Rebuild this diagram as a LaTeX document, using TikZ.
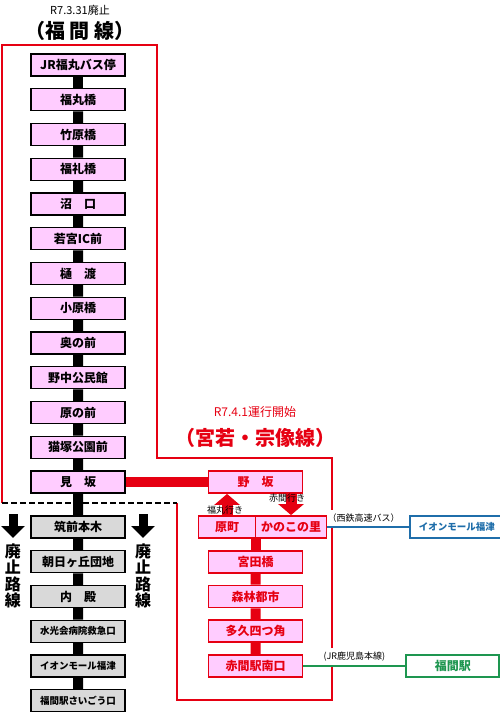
\documentclass[tikz,border=0pt]{standalone}
\usepackage{fontspec}
\setmainfont{Noto Sans CJK JP}
\usetikzlibrary{positioning,arrows.meta}
\definecolor{linered}{RGB}{230,0,18}
\definecolor{stoppink}{RGB}{255,204,255}
\definecolor{stopgray}{RGB}{217,217,217}
\definecolor{busblue}{RGB}{31,110,170}
\definecolor{jrgreen}{RGB}{30,150,80}
\newcommand\stopfont{\fontsize{12}{13}\selectfont\bfseries}
\newcommand\smallstop{\fontsize{9.5}{11}\selectfont\bfseries}
\newcommand\notefont{\fontsize{9}{10}\selectfont}
\newcommand\titlefont{\fontsize{20}{22}\selectfont\bfseries}
\newcommand\abolfont{\fontsize{16}{16.5}\selectfont\bfseries}
\begin{document}
\begin{tikzpicture}[x=1pt,y=-1pt,grow=down,level distance=34.75pt,
  edge from parent/.style={draw=black,line width=10pt},
  pinkstop/.style={draw=black,line width=1.3pt,fill=stoppink,minimum width=94pt,minimum height=22pt,inner sep=0pt,font=\stopfont},
  graystop/.style={pinkstop,fill=stopgray},
  newstop/.style={pinkstop,draw=linered,line width=1.8pt,text=linered},
  sidestop/.style={draw=#1,line width=1.6pt,fill=white,text=#1,minimum width=93pt,minimum height=22pt,inner sep=0pt,font=\stopfont},
  newtrunk/.style={draw=linered,line width=10pt},
  linenote/.style={fill=white,text=black,inner xsep=1pt,inner ysep=4pt,font=\notefont},
  dirarrow/.style={linered,line width=11pt,-{Triangle[width=25pt,length=11pt]}},
  abolarrow/.style={black,line width=9pt,-{Triangle[width=23pt,length=12pt]}},
  abolnote/.style={font=\abolfont,align=center,inner sep=0pt}]
\useasboundingbox (0,0) rectangle (499,713);
\draw[linered,line width=2pt] (2,503) -- (2,45) -- (157,45) -- (157,458) -- (332,458) -- (332,700) -- (177,700) -- (177,503);
\draw[black,line width=1.2pt,dash pattern=on 6pt off 3pt] (2,503) -- (177,503);
\node[font=\fontsize{11}{12}\selectfont] (oldday) at (80,10) {R7.3.31廃止};
\node[font=\titlefont] (oldname) at (80,31) {（福 間 線）};
\node[text=linered,font=\fontsize{12}{13}\selectfont] (newday) at (255,412) {R7.4.1運行開始};
\node[text=linered,font=\titlefont] (newname) at (255,438) {（宮若・宗像線）};
\node [pinkstop] (a) at (78,65) {JR福丸バス停}
  child {node [pinkstop] (b) {福丸橋}
    child {node [pinkstop] (c) {竹原橋}
      child {node [pinkstop] (d) {福礼橋}
        child {node [pinkstop] (e) {沼　口}
          child {node [pinkstop] (f) {若宮IC前}
            child {node [pinkstop] (g) {樋　渡}
              child {node [pinkstop] (h) {小原橋}
                child {node [pinkstop] (i) {奥の前}
                  child {node [pinkstop] (j) {野中公民館}
                    child {node [pinkstop] (k) {原の前}
                      child {node [pinkstop] (l) {猫塚公園前}
                        child {node [pinkstop] (m) {見　坂}
                          child [level distance=45pt] {node [graystop] (n) {筑前本木}
                            child [level distance=34.75pt] {node [graystop] (o) {朝日ヶ丘団地}
                              child {node [graystop] (p) {内　殿}
                                child {node [graystop,font=\smallstop] (q) {水光会病院救急口}
                                  child {node [graystop,font=\smallstop] (r) {イオンモール福津}
                                    child {node [graystop,font=\smallstop] (s) {福間駅さいごう口}}
                                  }
                                }
                              }
                            }
                          }
                        }
                      }
                    }
                  }
                }
              }
            }
          }
        }
      }
    }
  };
\node [newstop] (nos) [right=82pt of m] {野　坂};
\node [newstop,minimum width=57pt] (har) [right=72pt of n] {原町};
\node [newstop,minimum width=71pt] (kan) [right=-1.8pt of har] {かのこの里};
\node [newstop] (miy) [right=82pt of o] {宮田橋}
  [edge from parent/.style={newtrunk}]
  child {node [newstop] (shin) {森林都市}
    child {node [newstop] (taku) {多久四つ角}
      child {node [newstop] (aka) {赤間駅南口}}
    }
  };
\draw[newtrunk] (m.east) -- (nos.west);
\draw[newtrunk] (miy.north) -- (miy.north |- har.south);
\draw[dirarrow] (har.north) -- (har.north |- nos.south);
\draw[dirarrow] (kan.north |- nos.south) -- (kan.north);
\node[font=\notefont,inner sep=0pt] (tofuku) at (225,510) {福丸行き};
\node[font=\notefont,inner sep=0pt] (toaka) at (287,498) {赤間行き};
\node [sidestop=busblue,font=\smallstop] (aeon) [right=82pt of kan] {イオンモール福津};
\node [sidestop=jrgreen] (fkm) [right=102pt of aka] {福間駅};
\draw[busblue,line width=1.6pt] (kan.east) -- (aeon.west) node[linenote,pos=0.44,above=0pt] {（西鉄高速バス）};
\draw[jrgreen,line width=1.6pt] (aka.east) -- (fkm.west) node[linenote,midway,above=0pt] {(JR鹿児島本線)};
\draw[abolarrow] (13,514) -- (13,538);
\draw[abolarrow] (143,514) -- (143,538);
\node[abolnote] (abolL) at (13,576) {廃\\止\\路\\線};
\node[abolnote] (abolR) at (143,576) {廃\\止\\路\\線};
\end{tikzpicture}
\end{document}
